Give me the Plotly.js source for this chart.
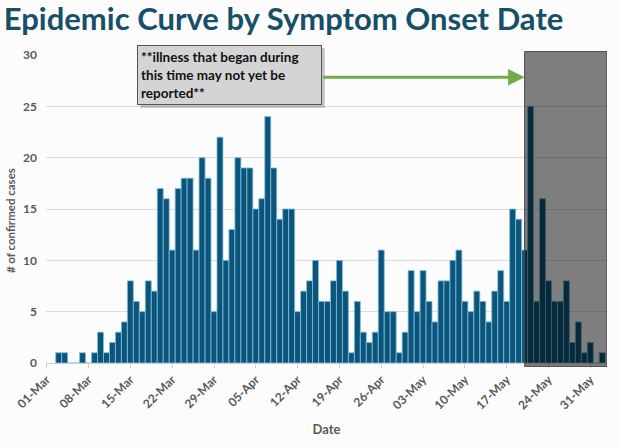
<!DOCTYPE html>
<html>
<head>
<meta charset="utf-8">
<script src="https://cdn.plot.ly/plotly-3.0.1.min.js"></script>
<style>
html,body{margin:0;padding:0;background:#fcfcfc;}
#chart{width:620px;height:447px;}
</style>
</head>
<body>
<div id="chart"></div>
<script>
const dates = [
'2020-03-03','2020-03-04','2020-03-05','2020-03-06','2020-03-07','2020-03-08','2020-03-09','2020-03-10','2020-03-11','2020-03-12',
'2020-03-13','2020-03-14','2020-03-15','2020-03-16','2020-03-17','2020-03-18','2020-03-19','2020-03-20','2020-03-21','2020-03-22',
'2020-03-23','2020-03-24','2020-03-25','2020-03-26','2020-03-27','2020-03-28','2020-03-29','2020-03-30','2020-03-31',
'2020-04-01','2020-04-02','2020-04-03','2020-04-04','2020-04-05','2020-04-06','2020-04-07','2020-04-08','2020-04-09','2020-04-10',
'2020-04-11','2020-04-12','2020-04-13','2020-04-14','2020-04-15','2020-04-16','2020-04-17','2020-04-18','2020-04-19','2020-04-20',
'2020-04-21','2020-04-22','2020-04-23','2020-04-24','2020-04-25','2020-04-26','2020-04-27','2020-04-28','2020-04-29','2020-04-30',
'2020-05-01','2020-05-02','2020-05-03','2020-05-04','2020-05-05','2020-05-06','2020-05-07','2020-05-08','2020-05-09','2020-05-10',
'2020-05-11','2020-05-12','2020-05-13','2020-05-14','2020-05-15','2020-05-16','2020-05-17','2020-05-18','2020-05-19','2020-05-20',
'2020-05-21','2020-05-22','2020-05-23','2020-05-24','2020-05-25','2020-05-26','2020-05-27','2020-05-28','2020-05-29','2020-05-30',
'2020-05-31','2020-06-01','2020-06-02'
];
const cases = [
1,1,0,0,1,0,1,3,1,2,3,4,8,6,5,8,7,17,16,11,17,18,18,11,20,18,5,22,10,13,
20,19,19,15,16,24,19,14,15,15,5,7,8,10,6,6,8,10,7,1,6,3,2,3,11,5,5,
1,3,9,5,9,6,4,8,8,10,11,6,5,7,6,4,7,9,6,15,14,11,25,6,16,8,6,6,8,2,4,1,2,0,1
];
const tickDates = ['2020-03-01','2020-03-08','2020-03-15','2020-03-22','2020-03-29','2020-04-05','2020-04-12',
'2020-04-19','2020-04-26','2020-05-03','2020-05-10','2020-05-17','2020-05-24','2020-05-31'];
const tickLabels = ['01-Mar','08-Mar','15-Mar','22-Mar','29-Mar','05-Apr','12-Apr',
'19-Apr','26-Apr','03-May','10-May','17-May','24-May','31-May'];
const yTicks = [0, 5, 10, 15, 20, 25, 30];
const shadeStart = '2020-05-20';
const noteText = '**illness that began during<br>this time may not yet be<br>reported**';
const titleText = 'Epidemic Curve by Symptom Onset Date';
const yTitle = '# of confirmed cases';
const xTitle = 'Date';

const font = 'Lato, "Open Sans", sans-serif';
const grey = '#595959';
const xEnd = '2020-06-02 19:00';

const trace = {
  type: 'bar',
  x: dates,
  y: cases,
  marker: {color: '#0c5479', line: {color: '#7cc0e0', width: 0.8}},
  hoverinfo: 'x+y'
};

const layout = {
  width: 620, height: 447,
  paper_bgcolor: '#fcfcfc', plot_bgcolor: '#fcfcfc',
  margin: {l: 46, r: 13, t: 55, b: 84},
  bargap: 0,
  showlegend: false,
  font: {family: font, color: grey},
  title: {
    text: '<b>' + titleText + '</b>',
    font: {family: font, size: 31, color: '#174f68'},
    x: 0.006, xanchor: 'left', xref: 'container',
    y: 0.958, yanchor: 'middle', yref: 'container'
  },
  xaxis: {
    type: 'date',
    range: ['2020-02-29 21:00', xEnd],
    tickvals: tickDates, ticktext: tickLabels,
    tickangle: -45,
    tickfont: {family: font, size: 12, color: grey, weight: 'bold'},
    ticks: 'outside', ticklen: 4, tickcolor: '#d0d0d0',
    showgrid: false, zeroline: false,
    showline: true, linecolor: '#d0d0d0', linewidth: 1,
    title: {text: '<b>' + xTitle + '</b>', font: {family: font, size: 13, color: grey}, standoff: 13}
  },
  yaxis: {
    range: [0, 30],
    tickvals: yTicks,
    tickfont: {family: font, size: 12, color: grey, weight: 'bold'},
    showgrid: true, gridcolor: '#dcdcdc', gridwidth: 1,
    zeroline: false, showline: false,
    ticklabelstandoff: 8
  },
  shapes: [{
    type: 'rect', xref: 'x', yref: 'paper',
    x0: shadeStart, x1: xEnd,
    y0: -0.011, y1: 1.011,
    fillcolor: 'rgba(0,0,0,0.5)',
    line: {color: '#4a4a4a', width: 1}
  }, {
    type: 'rect', xref: 'paper', yref: 'paper', layer: 'above',
    x0: 0.168, x1: 0.497, y0: 0.829, y1: 1.022,
    fillcolor: 'rgba(0,0,0,0.22)', line: {width: 0}
  }],
  annotations: [{
    xref: 'paper', yref: 'paper',
    x: -0.064, y: 0.461, xanchor: 'center', yanchor: 'middle',
    text: '<b>' + yTitle + '</b>', textangle: -90,
    showarrow: false,
    font: {family: font, size: 11.5, color: grey}
  }, {
    xref: 'paper', yref: 'paper',
    x: 0.162, y: 1.032, xanchor: 'left', yanchor: 'top',
    text: '<b>' + noteText + '</b>',
    showarrow: false, align: 'left', valign: 'middle',
    width: 177, height: 52,
    font: {family: font, size: 13.5, color: '#111'},
    bgcolor: '#d4d4d4', bordercolor: '#555', borderwidth: 1, borderpad: 3
  }, {
    xref: 'x', yref: 'paper',
    x: shadeStart, y: 0.928,
    ax: -203, ay: 0, axref: 'pixel', ayref: 'pixel',
    text: '', showarrow: true,
    arrowhead: 2, arrowsize: 1.1, arrowwidth: 3, arrowcolor: '#70ad47'
  }]
};

Plotly.newPlot('chart', [trace], layout, {displayModeBar: false, staticPlot: true});
</script>
</body>
</html>
